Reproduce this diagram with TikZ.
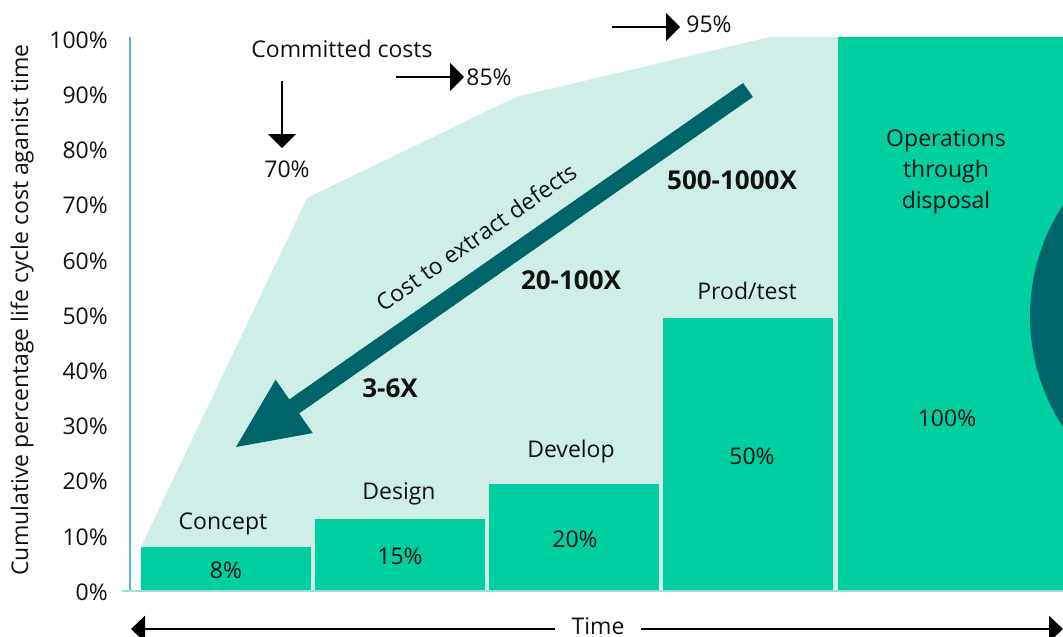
\documentclass[tikz,border=0pt]{standalone}
\usepackage{fontspec}
\setmainfont{Open Sans}
\usetikzlibrary{arrows.meta}
\definecolor{lightfill}{HTML}{CFEEE7}
\definecolor{barfill}{HTML}{00CF9F}
\definecolor{darkteal}{HTML}{00646B}
\definecolor{axisteal}{HTML}{52BCC6}
\definecolor{baseteal}{HTML}{A3DCD8}
\definecolor{txt}{HTML}{111111}
\tikzset{
  lbl/.style={font=\fontsize{23}{27}\selectfont, text=txt, inner sep=0pt},
  bold lbl/.style={font=\fontsize{26}{30}\selectfont\bfseries, text=txt, inner sep=0pt},
  tick/.style={font=\fontsize{23}{27}\selectfont, text=txt, inner sep=0pt, anchor=east},
  bar/.style={fill=barfill, draw=none},
  blackarr/.style={line width=2pt, -{Triangle[width=28pt,length=14pt]}},
  timearr/.style={line width=2.5pt, -{Triangle[width=26pt,length=14pt]}},
}
\begin{document}
\begin{tikzpicture}[x=1pt,y=-1pt]
\useasboundingbox (0,0) rectangle (1063,637);
\fill[white] (0,0) rectangle (1063,637);
% committed cost area
\fill[lightfill] (141,591) -- (141,547) -- (307,198) -- (516,97) -- (770,37) -- (838,37) -- (838,591) -- cycle;
% bars
\fill[bar] (141,547) rectangle (311,590);
\fill[bar] (315,519) rectangle (485,590);
\fill[bar] (489,484) rectangle (659,590);
\fill[bar] (663,318) rectangle (833,590);
\fill[bar] (838,37) rectangle (1063,590);
% circle
\begin{scope}
\clip (0,0) rectangle (1063,637);
\fill[darkteal] (1233,316) circle[radius=203];
\end{scope}
% axes
\draw[axisteal, line width=2.2pt] (130,37) -- (130,591);
\draw[baseteal, line width=2pt] (122,591) -- (1063,591);
% y ticks
\foreach \v [count=\i from 0] in {0\%,10\%,20\%,30\%,40\%,50\%,60\%,70\%,80\%,90\%,100\%}{
  \node[tick] (t\i) at (108,{592-55.2*\i}) {\v};
}
\node[lbl, rotate=90] (ylab) at (22,310) {Cumulative percentage life cycle cost aganist time};
% big arrow
\fill[darkteal] (752.9,97.0) -- (743.1,83.0) -- (289.3,399.4) -- (275.6,379.7) -- (236,447) -- (312.8,433.1) -- (299.1,413.4) -- cycle;
\node[lbl, rotate=35] (cost) at (476,237) {Cost to extract defects};
\node[bold lbl] (m500) at (732,180) {500-1000X};
\node[bold lbl] (m20) at (571,280) {20-100X};
\node[bold lbl] (m3) at (390,388) {3-6X};
% committed costs
\node[lbl] (cc) at (342,49) {Committed costs};
\node[lbl] (p70) at (287,169) {70\%};
\coordinate (a70) at (282,81);
\coordinate (a70e) at (282,148);
\draw[blackarr] (a70) -- (a70e);
\node[lbl] (p85) at (489,77) {85\%};
\coordinate (a85) at (396,77);
\coordinate (a85e) at (464,77);
\draw[blackarr] (a85) -- (a85e);
\node[lbl] (p95) at (709,24) {95\%};
\coordinate (a95) at (612,27);
\coordinate (a95e) at (680,27);
\draw[blackarr] (a95) -- (a95e);
% bar labels
\node[lbl] (concept) at (223,524) {Concept};
\node[lbl] (v8) at (226,570) {8\%};
\node[lbl] (design) at (399,494) {Design};
\node[lbl] (v15) at (400,556) {15\%};
\node[lbl] (develop) at (571,452) {Develop};
\node[lbl] (v20) at (575,539) {20\%};
\node[lbl] (prod) at (747,291) {Prod/test};
\node[lbl] (v50) at (752,456) {50\%};
\node[lbl, align=center, font=\fontsize{23}{31}\selectfont] (ops) at (946,172) {Operations\\through\\disposal};
\node[lbl] (v100) at (947,418) {100\%};
% time axis
\node[lbl] (time) at (598,626) {Time};
\coordinate (tl) at (131,629);
\coordinate (tr) at (1063,629);
\draw[timearr] (time.west) ++(-16,3) -- (tl);
\draw[timearr] (time.east) ++(16,3) -- (tr);
\end{tikzpicture}
\end{document}
